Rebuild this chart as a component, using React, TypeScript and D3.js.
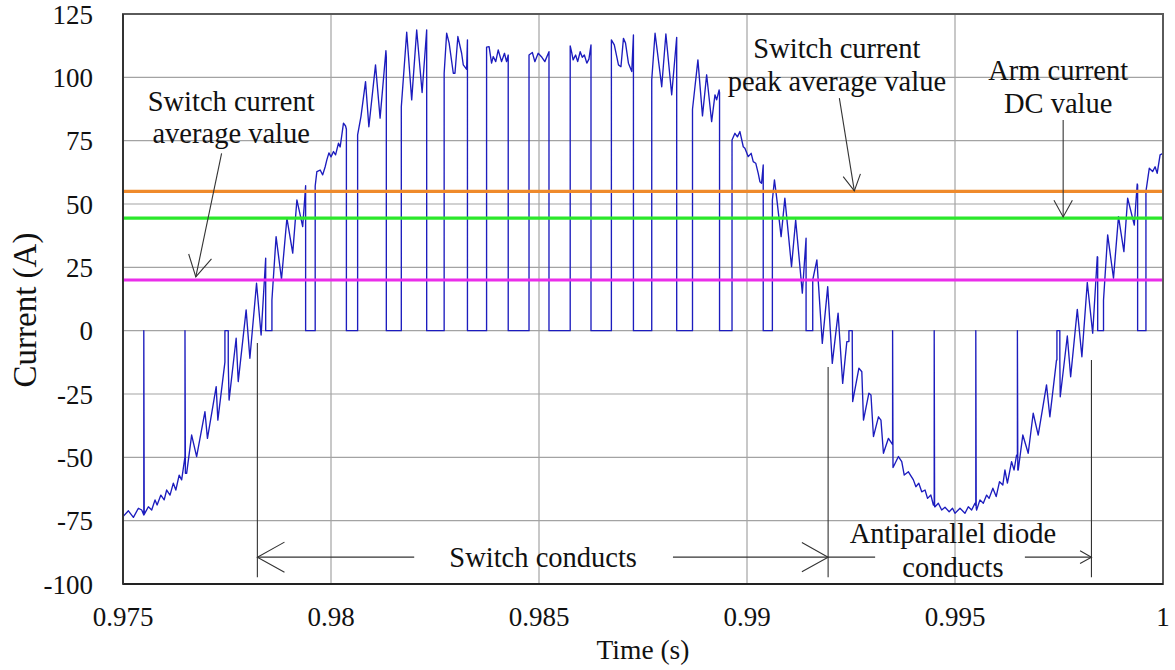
import React from 'react';
import * as d3 from 'd3';

// ---------- data (time in ms, current in A) ----------
const yTicks = [-100, -75, -50, -25, 0, 25, 50, 75, 100, 125];
const xTicks = [975, 980, 985, 990, 995, 1000];
const xTickLabels = ['0.975', '0.98', '0.985', '0.99', '0.995', '1'];

const switchCurrent: [number, number][] = [
  [975.0, -73.4], [975.13, -71.1], [975.25, -73.7], [975.37, -70.1], [975.45, -70.8], [975.5, -72.8], [975.5, 0], [975.51, -72.5],
  [975.61, -69.5], [975.69, -70.8], [975.77, -66.8], [975.82, -68.8], [975.91, -64.9], [975.99, -66.8], [976.05, -62.9], [976.13, -64.9],
  [976.21, -60.2], [976.27, -62.9], [976.35, -57.0], [976.41, -58.9], [976.49, -49.7], [976.49, 0], [976.5, -56.3], [976.53, -56.3],
  [976.65, -41.2], [976.77, -49.7], [976.97, -32.0], [977.03, -42.5], [977.24, -22.1], [977.28, -35.3], [977.45, -12.4], [977.45, 0],
  [977.53, 0], [977.53, -12.9], [977.55, -27.4], [977.72, -3.0], [977.77, -20.1], [977.96, 8.2], [978.05, -10.9], [978.21, 18.7],
  [978.32, -1.7], [978.43, 28.6], [978.43, 0], [978.58, 0], [978.58, 12.1], [978.68, 37.1], [978.81, 20.3], [978.94, 44.4],
  [979.08, 30.6], [979.18, 51.6], [979.32, 41.1], [979.39, 57.2], [979.39, 0], [979.62, 0], [979.62, 57.1], [979.66, 62.8],
  [979.74, 63.4], [979.8, 61.5], [979.86, 64.7], [979.9, 67.4], [979.95, 70.2], [980.0, 68.6], [980.06, 70.7], [980.11, 69.4],
  [980.18, 74.0], [980.22, 72.5], [980.3, 81.9], [980.35, 80.8], [980.37, 79.5], [980.37, 0], [980.64, 0], [980.64, 77.3],
  [980.72, 84.5], [980.83, 98.3], [980.91, 80.5], [981.07, 104.9], [981.18, 83.9], [981.32, 110.5], [981.33, 108.0], [981.33, 0],
  [981.69, 0], [981.69, 88.4], [981.82, 117.8], [981.94, 91.1], [982.06, 118.7], [982.19, 94.0], [982.3, 118.7], [982.3, 0],
  [982.72, 0], [982.72, 101.6], [982.78, 117.4], [982.84, 113.5], [982.94, 101.6], [982.98, 101.6], [983.05, 116.1], [983.14, 109.5],
  [983.18, 104.9], [983.26, 103.2], [983.28, 114.8], [983.28, 0], [983.74, 0], [983.74, 111.9], [983.8, 112.1], [983.86, 105.6],
  [983.9, 108.2], [983.96, 106.2], [984.02, 110.8], [984.1, 106.2], [984.17, 109.5], [984.22, 106.2], [984.26, 108.8], [984.26, 0],
  [984.76, 0], [984.76, 108.8], [984.84, 109.8], [984.9, 106.2], [984.98, 109.5], [985.07, 107.9], [985.14, 106.2], [985.24, 110.1],
  [985.24, 0], [985.75, 0], [985.75, 112.4], [985.79, 109.5], [985.82, 106.9], [985.88, 108.8], [985.93, 106.2], [985.99, 110.1],
  [986.04, 107.9], [986.09, 108.8], [986.15, 105.6], [986.2, 107.2], [986.25, 112.8], [986.25, 0], [986.74, 0], [986.74, 114.8],
  [986.81, 112.8], [986.91, 104.9], [986.97, 104.2], [987.03, 115.4], [987.08, 113.5], [987.15, 105.6], [987.23, 102.3], [987.27, 116.7],
  [987.27, 0], [987.71, 0], [987.71, 99.0], [987.79, 117.4], [987.95, 96.3], [988.05, 117.1], [988.19, 93.1], [988.31, 115.8],
  [988.31, 0], [988.69, 0], [988.69, 87.4], [988.82, 106.9], [988.93, 84.8], [989.03, 101.0], [989.15, 82.5], [989.23, 93.1],
  [989.27, 91.1], [989.33, 95.0], [989.34, 94.0], [989.34, 0], [989.64, 0], [989.64, 75.3], [989.71, 77.9], [989.77, 76.5],
  [989.83, 78.6], [989.91, 72.6], [989.95, 72.0], [990.03, 68.7], [990.1, 70.0], [990.15, 66.7], [990.21, 66.1], [990.27, 62.1],
  [990.31, 58.8], [990.35, 58.2], [990.39, 65.4], [990.39, 0], [990.61, 0], [990.61, 51.6], [990.66, 59.5], [990.71, 52.9],
  [990.82, 37.1], [990.91, 52.3], [991.07, 25.3], [991.17, 43.7], [991.33, 14.8], [991.42, 36.5], [991.42, 0], [991.58, 0],
  [991.58, 20.0], [991.68, 27.9], [991.81, -5.0], [991.94, 17.4], [992.05, -12.9], [992.19, 6.9], [992.3, -20.8], [992.4, -4.3],
  [992.45, -4.3], [992.45, 0], [992.53, 0], [992.53, -5.0], [992.54, -28.0], [992.69, -14.8], [992.76, -16.2], [992.8, -35.3],
  [992.93, -24.7], [992.98, -25.4], [993.04, -41.8], [993.16, -34.0], [993.22, -35.3], [993.28, -48.4], [993.4, -42.5], [993.48, -44.5],
  [993.5, -45.0], [993.5, 0], [993.51, -54.0], [993.52, -53.7], [993.64, -49.7], [993.72, -51.7], [993.78, -57.0], [993.88, -55.7],
  [994.0, -58.9], [994.06, -61.6], [994.13, -60.2], [994.2, -63.6], [994.28, -62.9], [994.34, -66.2], [994.42, -64.9], [994.48, -68.8],
  [994.5, -69.0], [994.5, 0], [994.51, -69.5], [994.52, -69.5], [994.6, -68.1], [994.68, -70.8], [994.76, -69.7], [994.86, -71.5],
  [994.94, -70.1], [995.0, -72.1], [995.12, -70.1], [995.24, -72.1], [995.32, -69.5], [995.4, -70.8], [995.48, -68.1], [995.5, -69.0],
  [995.5, 0], [995.51, -70.0], [995.52, -70.8], [995.6, -66.8], [995.68, -68.1], [995.76, -64.9], [995.82, -66.2], [995.91, -62.2],
  [995.99, -65.5], [996.07, -59.6], [996.15, -60.9], [996.2, -55.0], [996.26, -60.2], [996.36, -51.7], [996.42, -55.0], [996.48, -49.1],
  [996.5, -49.0], [996.5, 0], [996.51, -55.0], [996.52, -55.0], [996.63, -41.2], [996.76, -48.4], [996.88, -32.6], [997.0, -41.2],
  [997.2, -21.4], [997.28, -34.0], [997.44, -11.6], [997.45, -11.6], [997.45, 0], [997.52, 0], [997.52, -12.0], [997.53, -26.1],
  [997.7, -2.1], [997.78, -18.2], [997.94, 8.4], [998.05, -10.3], [998.18, 19.0], [998.31, -1.0], [998.42, 29.2], [998.43, 29.0],
  [998.43, 0], [998.57, 0], [998.57, 12.0], [998.67, 37.8], [998.81, 20.7], [998.93, 45.0], [999.06, 31.2], [999.15, 52.3],
  [999.31, 41.7], [999.38, 57.9], [999.39, 57.5], [999.39, 0], [999.59, 0], [999.59, 55.0], [999.67, 64.1], [999.75, 62.8],
  [999.81, 64.7], [999.86, 62.1], [999.93, 69.4], [1000.0, 70.0],
];

// reference levels: switch current peak average, arm current DC, switch current average
const refValues = [55, 44.4, 20];
const refColors = ['#ef8a2b', '#2be82b', '#ea2dea'];

// annotation arrows: [fromT, fromI, toT, toI]
const arrowLines: [number, number, number, number][] = [
  [977.37, 70.0, 976.75, 21.2],
  [992.22, 91.8, 992.58, 55.2],
  [997.6, 83.2, 997.6, 44.9],
  [982.0, -89.4, 978.23, -89.4],
  [988.22, -89.4, 991.95, -89.4],
  [991.95, -89.4, 993.08, -89.4],
  [996.68, -89.4, 998.28, -89.4],
];
const arrowHeadSizes = [24, 18, 19, 31, 30, 0, 13];

// vertical conduction markers
const markerTimes = [978.23, 991.95, 998.28];
const markerTops = [-4.9, -14.3, -11.6];
const markerBottom = -97.3;

// annotation texts: [text, t, i]
const annotationTexts: [string, number, number][] = [
  ['Switch current', 977.6, 86.7],
  ['average value', 977.6, 74.1],
  ['Switch current', 992.16, 107.5],
  ['peak average value', 992.16, 94.6],
  ['Arm current', 997.48, 99.0],
  ['DC value', 997.48, 86.0],
  ['Switch conducts', 985.1, -93.1],
  ['Antiparallel diode', 994.95, -83.8],
  ['conducts', 994.95, -97.3],
];

// ---------- chart ----------
const W = 1175;
const H = 670;
const M = { left: 123, right: 1163, top: 14, bottom: 584 };
const FONT = '"Liberation Serif", "Times New Roman", serif';

export default function App() {
  const x = d3.scaleLinear().domain([975, 1000]).range([M.left, M.right]);
  const y = d3.scaleLinear().domain([-100, 125]).range([M.bottom, M.top]);

  const line = d3
    .line<[number, number]>()
    .x((d) => x(d[0]))
    .y((d) => y(d[1]));

  const arrowHead = (x1: number, y1: number, x2: number, y2: number, L: number) => {
    if (!L) return null;
    const th = Math.atan2(y2 - y1, x2 - x1);
    const a = (29 * Math.PI) / 180;
    const p1 = [x2 - L * Math.cos(th - a), y2 - L * Math.sin(th - a)];
    const p2 = [x2 - L * Math.cos(th + a), y2 - L * Math.sin(th + a)];
    return `M${p1[0]},${p1[1]}L${x2},${y2}L${p2[0]},${p2[1]}`;
  };

  return (
    <svg
      width={W}
      height={H}
      viewBox={`0 0 ${W} ${H}`}
      style={{ position: 'absolute', left: 0, top: 0, background: '#fff' }}
      fontFamily={FONT}
    >
      <rect x={0} y={0} width={W} height={H} fill="#fff" />
      {/* grid */}
      <g stroke="#a3a3a3" strokeWidth={1.2}>
        {yTicks.map((t) => (
          <line key={'gy' + t} x1={M.left} x2={M.right} y1={y(t)} y2={y(t)} />
        ))}
        {xTicks.map((t) => (
          <line key={'gx' + t} x1={x(t)} x2={x(t)} y1={M.top} y2={M.bottom} />
        ))}
      </g>

      {/* switch current waveform */}
      <path d={line(switchCurrent) || ''} fill="none" stroke="#1c1cbe" strokeWidth={1.35} strokeLinejoin="round" />

      {/* reference levels */}
      {refValues.map((v, i) => (
        <line key={'ref' + i} x1={M.left} x2={M.right} y1={y(v)} y2={y(v)} stroke={refColors[i]} strokeWidth={3.2} />
      ))}

      {/* frame */}
      <rect x={M.left} y={M.top} width={M.right - M.left} height={M.bottom - M.top} fill="none" stroke="#5a5a5a" strokeWidth={2} />
      <line x1={M.left} x2={M.right} y1={M.bottom} y2={M.bottom} stroke="#222" strokeWidth={2} />
      <line x1={M.left} x2={M.left} y1={M.top} y2={M.bottom} stroke="#333" strokeWidth={2} />

      {/* markers */}
      <g stroke="#333" strokeWidth={1.1}>
        {markerTimes.map((t, i) => (
          <line key={'mk' + i} x1={x(t)} x2={x(t)} y1={y(markerTops[i])} y2={y(markerBottom)} />
        ))}
      </g>

      {/* arrows */}
      <g stroke="#333" strokeWidth={1.1} fill="none">
        {arrowLines.map((a, i) => {
          const x1 = x(a[0]);
          const y1 = y(a[1]);
          const x2 = x(a[2]);
          const y2 = y(a[3]);
          const h = arrowHead(x1, y1, x2, y2, arrowHeadSizes[i]);
          return (
            <g key={'ar' + i}>
              <line x1={x1} y1={y1} x2={x2} y2={y2} />
              {h && <path d={h} />}
            </g>
          );
        })}
      </g>

      {/* annotation texts */}
      {annotationTexts.map((a, i) => (
        <text key={'tx' + i} x={x(a[1])} y={y(a[2])} textAnchor="middle" fontSize={28.5} fill="#111">
          {a[0]}
        </text>
      ))}

      {/* y tick labels */}
      {yTicks.map((t) => (
        <text key={'yl' + t} x={93} y={y(t) + 9.5} textAnchor="end" fontSize={27} fill="#111">
          {t}
        </text>
      ))}
      {/* x tick labels */}
      {xTicks.map((t, i) => (
        <text key={'xl' + t} x={x(t)} y={626} textAnchor="middle" fontSize={27} fill="#111">
          {xTickLabels[i]}
        </text>
      ))}

      {/* axis titles */}
      <text x={(M.left + M.right) / 2} y={659} textAnchor="middle" fontSize={27.5} fill="#111">
        Time (s)
      </text>
      <text
        transform={`translate(36, 310) rotate(-90)`}
        textAnchor="middle"
        fontSize={33}
        fill="#111"
      >
        Current (A)
      </text>
    </svg>
  );
}
